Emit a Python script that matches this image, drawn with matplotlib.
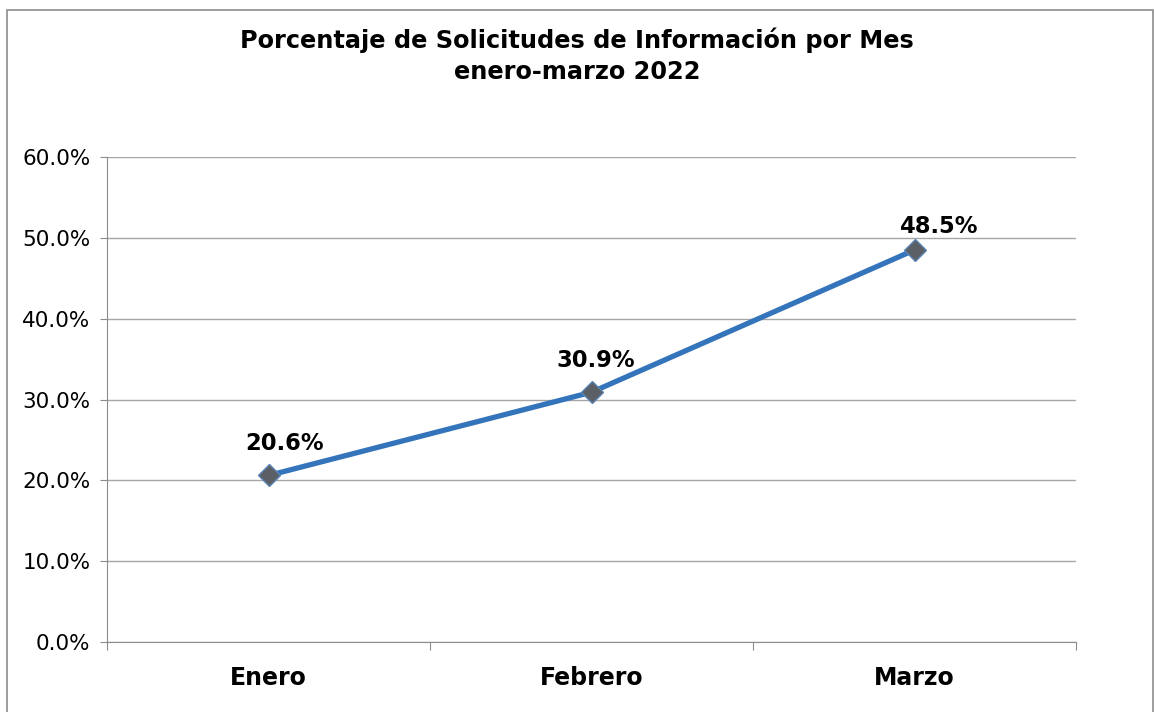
import matplotlib

matplotlib.use("Agg")
import matplotlib.pyplot as plt
from matplotlib.patches import Rectangle
from matplotlib.ticker import FuncFormatter

months = ["Enero", "Febrero", "Marzo"]
percentages = [20.6, 30.9, 48.5]
label_offsets_px = [(16, 20), (4, 20), (25, 12)]

W, H = 1154, 712
fig = plt.figure(figsize=(W / 100, H / 100), dpi=100)
ax = fig.add_axes([107 / W, 1 - 642 / H, (1076 - 107) / W, (642 - 157) / H])

# chart border
fig.patches.append(
    Rectangle((7 / W, -0.01), (1153 - 7) / W, 1 - 10 / H + 0.01,
              transform=fig.transFigure, fill=False, edgecolor="#8c8c8c", linewidth=1.2)
)

x = range(len(months))
ax.plot(x, percentages, color="#3474bb", linewidth=3.8, solid_capstyle="round", zorder=3,
        marker="D", markersize=11.5, markerfacecolor="#5b5f66", markeredgecolor="#5b84b4",
        markeredgewidth=1)

for i, v in enumerate(percentages):
    dx, dy = label_offsets_px[i]
    ax.annotate(f"{v:.1f}%", (i, v), xytext=(dx * 0.72, dy * 0.72), textcoords="offset points",
                ha="center", va="bottom", fontsize=16.3, fontweight="bold", color="black")

ax.set_xlim(-0.5, 2.5)
ax.set_ylim(0, 60)
ax.set_yticks(range(0, 61, 10))
ax.yaxis.set_major_formatter(FuncFormatter(lambda v, _: f"{v:.1f}%"))
ax.set_xticks([-0.5, 0.5, 1.5, 2.5], minor=False)
ax.set_xticklabels([])
ax.set_xticks(list(x), minor=True)
ax.set_xticklabels(months, minor=True, fontsize=17, fontweight="bold")
ax.tick_params(axis="x", which="minor", length=0, pad=17)
ax.tick_params(axis="x", which="major", length=6, color="#8c8c8c", direction="out")
ax.tick_params(axis="y", length=5, color="#8c8c8c", labelsize=15.5, pad=7)

ax.grid(axis="y", color="#a6a6a6", linewidth=1)
ax.set_axisbelow(True)
for side in ("top", "right"):
    ax.spines[side].set_visible(False)
for side in ("left", "bottom"):
    ax.spines[side].set_color("#8c8c8c")

fig.text(0.5, 1 - 56 / H, "Porcentaje de Solicitudes de Información por Mes\nenero-marzo 2022",
         ha="center", va="center", fontsize=17.3, fontweight="bold", linespacing=1.35)

fig.savefig("out.png", dpi=100)
